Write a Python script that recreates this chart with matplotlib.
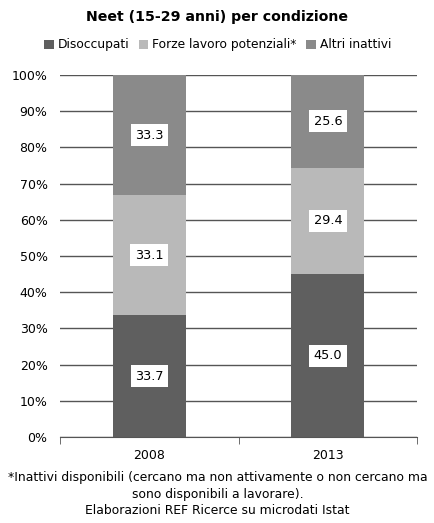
import numpy as np
import matplotlib.pyplot as plt
from matplotlib.ticker import PercentFormatter

anni = ["2008", "2013"]
disoccupati = [33.7, 45.0]
forze_lavoro = [33.1, 29.4]
altri_inattivi = [33.3, 25.6]

serie = [("Disoccupati", disoccupati, "#5f5f5f"),
         ("Forze lavoro potenziali*", forze_lavoro, "#b9b9b9"),
         ("Altri inattivi", altri_inattivi, "#8a8a8a")]

plt.rcParams['font.family'] = ['DejaVu Sans']

fig = plt.figure(figsize=(4.35, 5.23), dpi=100)
ax = fig.add_axes([0.138, 0.1645, 0.821, 0.692])

x = np.arange(len(anni))
totale = np.array(disoccupati) + np.array(forze_lavoro) + np.array(altri_inattivi)
base = np.zeros(len(anni))
for nome, valori, colore in serie:
    v = np.array(valori)
    quota = v / totale * 100
    ax.bar(x, quota, 0.41, bottom=base, color=colore, label=nome, zorder=2)
    # etichette con riquadro bianco al centro di ogni segmento
    for xi, b, q, val in zip(x, base, quota, v):
        ax.text(xi, b + q / 2, f"{val:.1f}", ha="center", va="center", fontsize=9.3,
                bbox=dict(boxstyle="square,pad=0.35", fc="white", ec="none"), zorder=3)
    base += quota

ax.set_xlim(-0.5, 1.5)
ax.set_ylim(0, 100)
ax.set_yticks(np.arange(0, 101, 10))
ax.yaxis.set_major_formatter(PercentFormatter(decimals=0))
ax.yaxis.grid(True, color="#555555", linewidth=1, zorder=1)
ax.set_xticks(x)
ax.set_xticklabels(anni)
ax.set_xticks([-0.5, 0.5, 1.5], minor=True)
ax.tick_params(axis="x", which="major", length=0, pad=9, labelsize=9)
ax.tick_params(axis="x", which="minor", length=5, color="#555555")
ax.tick_params(axis="y", length=0, pad=9, labelsize=9)
for s in ["top", "right", "left"]:
    ax.spines[s].set_visible(False)
ax.spines["bottom"].set_color("#555555")

fig.text(0.5, 0.967, "Neet (15-29 anni) per condizione", ha="center", va="center",
         fontsize=10.2, fontweight="bold")
fig.legend(loc="center", bbox_to_anchor=(0.5, 0.914), ncol=3, frameon=False,
           fontsize=8.8, handlelength=0.8, handleheight=0.8, handletextpad=0.3,
           columnspacing=0.8)

fig.text(0.5, 0.0545, "*Inattivi disponibili (cercano ma non attivamente o non cercano ma\n"
         "sono disponibili a lavorare).\nElaborazioni REF Ricerce su microdati Istat",
         ha="center", va="center", fontsize=8.9, linespacing=1.35)

fig.savefig("out.png", dpi=100)
